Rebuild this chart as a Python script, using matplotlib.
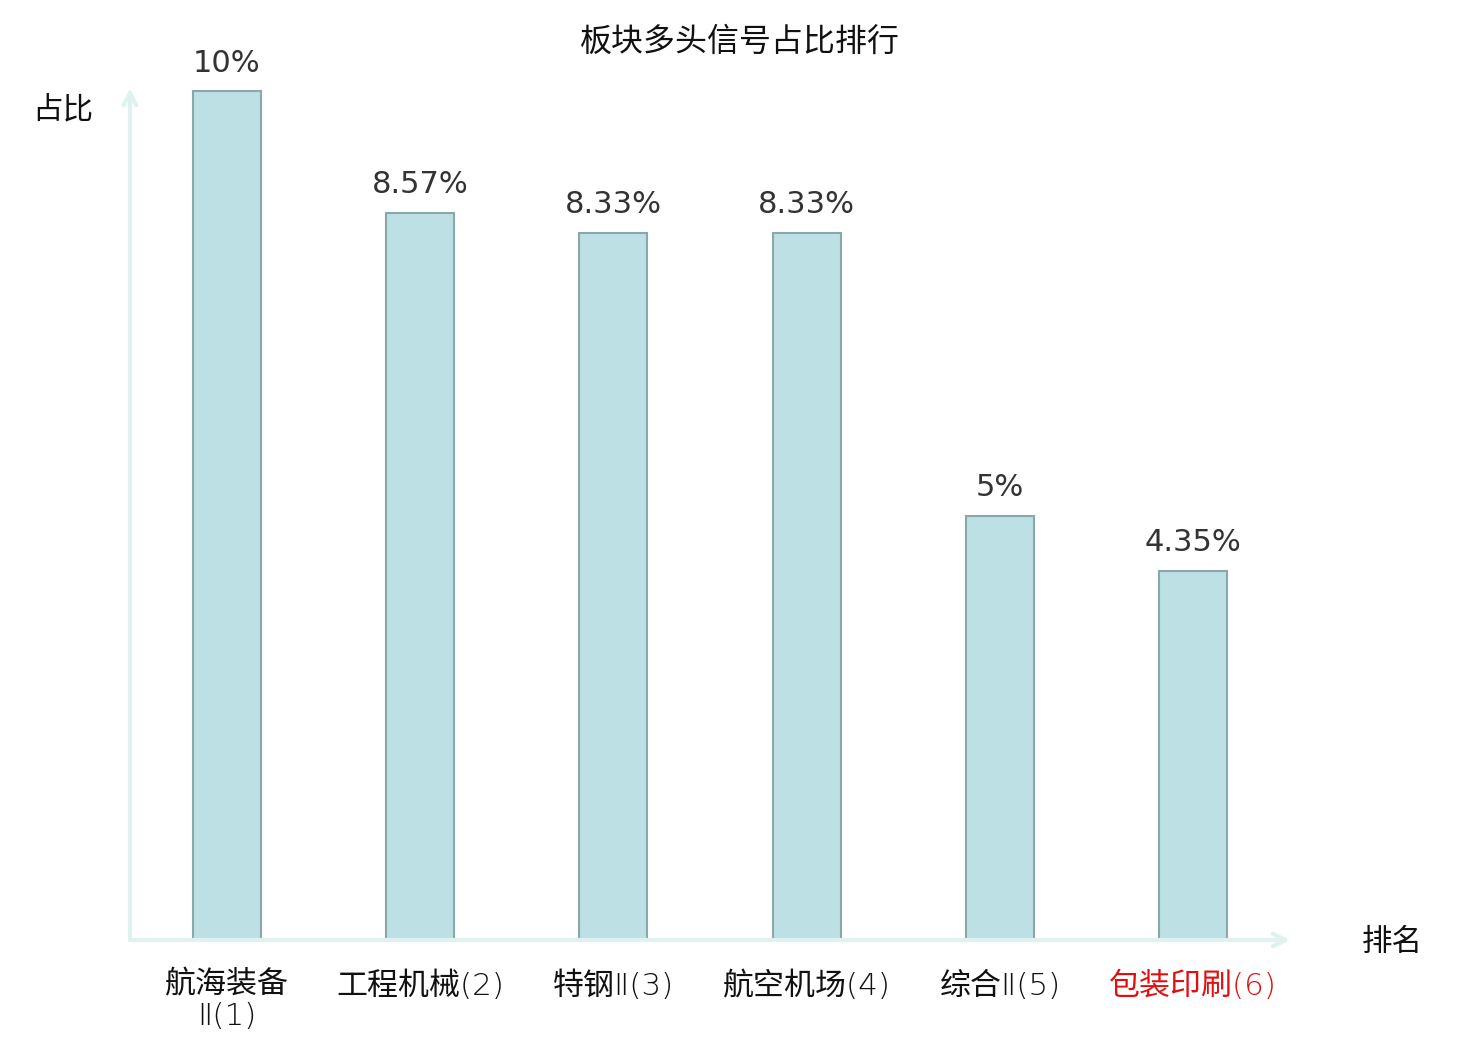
import matplotlib
matplotlib.use("Agg")
import matplotlib.pyplot as plt

plt.rcParams['font.family'] = ['DejaVu Sans', 'Noto Sans CJK SC']

categories = ["航海装备\nⅡ(1)", "工程机械(2)", "特钢Ⅱ(3)", "航空机场(4)", "综合Ⅱ(5)", "包装印刷(6)"]
values = [10, 8.57, 8.33, 8.33, 5, 4.35]
value_labels = ["10%", "8.57%", "8.33%", "8.33%", "5%", "4.35%"]
label_colors = ["#111111", "#111111", "#111111", "#111111", "#111111", "#e01010"]
title = "板块多头信号占比排行"
y_name = "占比"
x_name = "排名"

fig = plt.figure(figsize=(14.8, 10.4), dpi=100)
ax = fig.add_axes([130/1480, 100/1040, 1160/1480, 852/1040])

x = list(range(len(categories)))
ax.bar(x, values, width=0.352, color="#bce0e3", edgecolor="#8aa8a8", linewidth=1.5, zorder=3)
ax.set_xlim(-0.5, len(categories) - 0.5)
ax.set_ylim(0, 10.04)

for xi, v, lab in zip(x, values, value_labels):
    ax.annotate(lab, (xi, v), xytext=(0, 10), textcoords="offset points",
                ha="center", va="bottom", fontsize=22, color="#333333")

for s in ax.spines.values():
    s.set_visible(False)
ax.set_yticks([])
ax.set_xticks(x)
ax.set_xticklabels(categories, fontsize=22.3, linespacing=1.12, weight="light",
                   family=['DejaVu Sans', 'Noto Sans CJK SC'])
for t, c in zip(ax.get_xticklabels(), label_colors):
    t.set_color(c)
ax.tick_params(axis="x", length=0, pad=22)

axis_col = "#dff2ef"
ax.annotate("", xy=(1.0, 0), xytext=(0, 0), xycoords="axes fraction",
            arrowprops=dict(arrowstyle="->,head_length=0.9,head_width=0.45", color=axis_col, lw=3,
                            shrinkA=0, shrinkB=0), annotation_clip=False)
ax.annotate("", xy=(0, 1.0), xytext=(0, 0), xycoords="axes fraction",
            arrowprops=dict(arrowstyle="->,head_length=0.9,head_width=0.45", color=axis_col, lw=3,
                            shrinkA=0, shrinkB=0), annotation_clip=False)

fig.text(740/1480, 1 - 42/1040, title, ha="center", va="center", fontsize=23,
         family=['Noto Sans CJK SC', 'DejaVu Sans'], color="#111111")
fig.text(63/1480, 1 - 110/1040, y_name, ha="center", va="center", fontsize=22,
         family=['Noto Sans CJK SC', 'DejaVu Sans'], color="#111111")
fig.text(1392/1480, 1 - 942/1040, x_name, ha="center", va="center", fontsize=22,
         family=['Noto Sans CJK SC', 'DejaVu Sans'], color="#111111")

fig.savefig("out.png", dpi=100, facecolor="white")
